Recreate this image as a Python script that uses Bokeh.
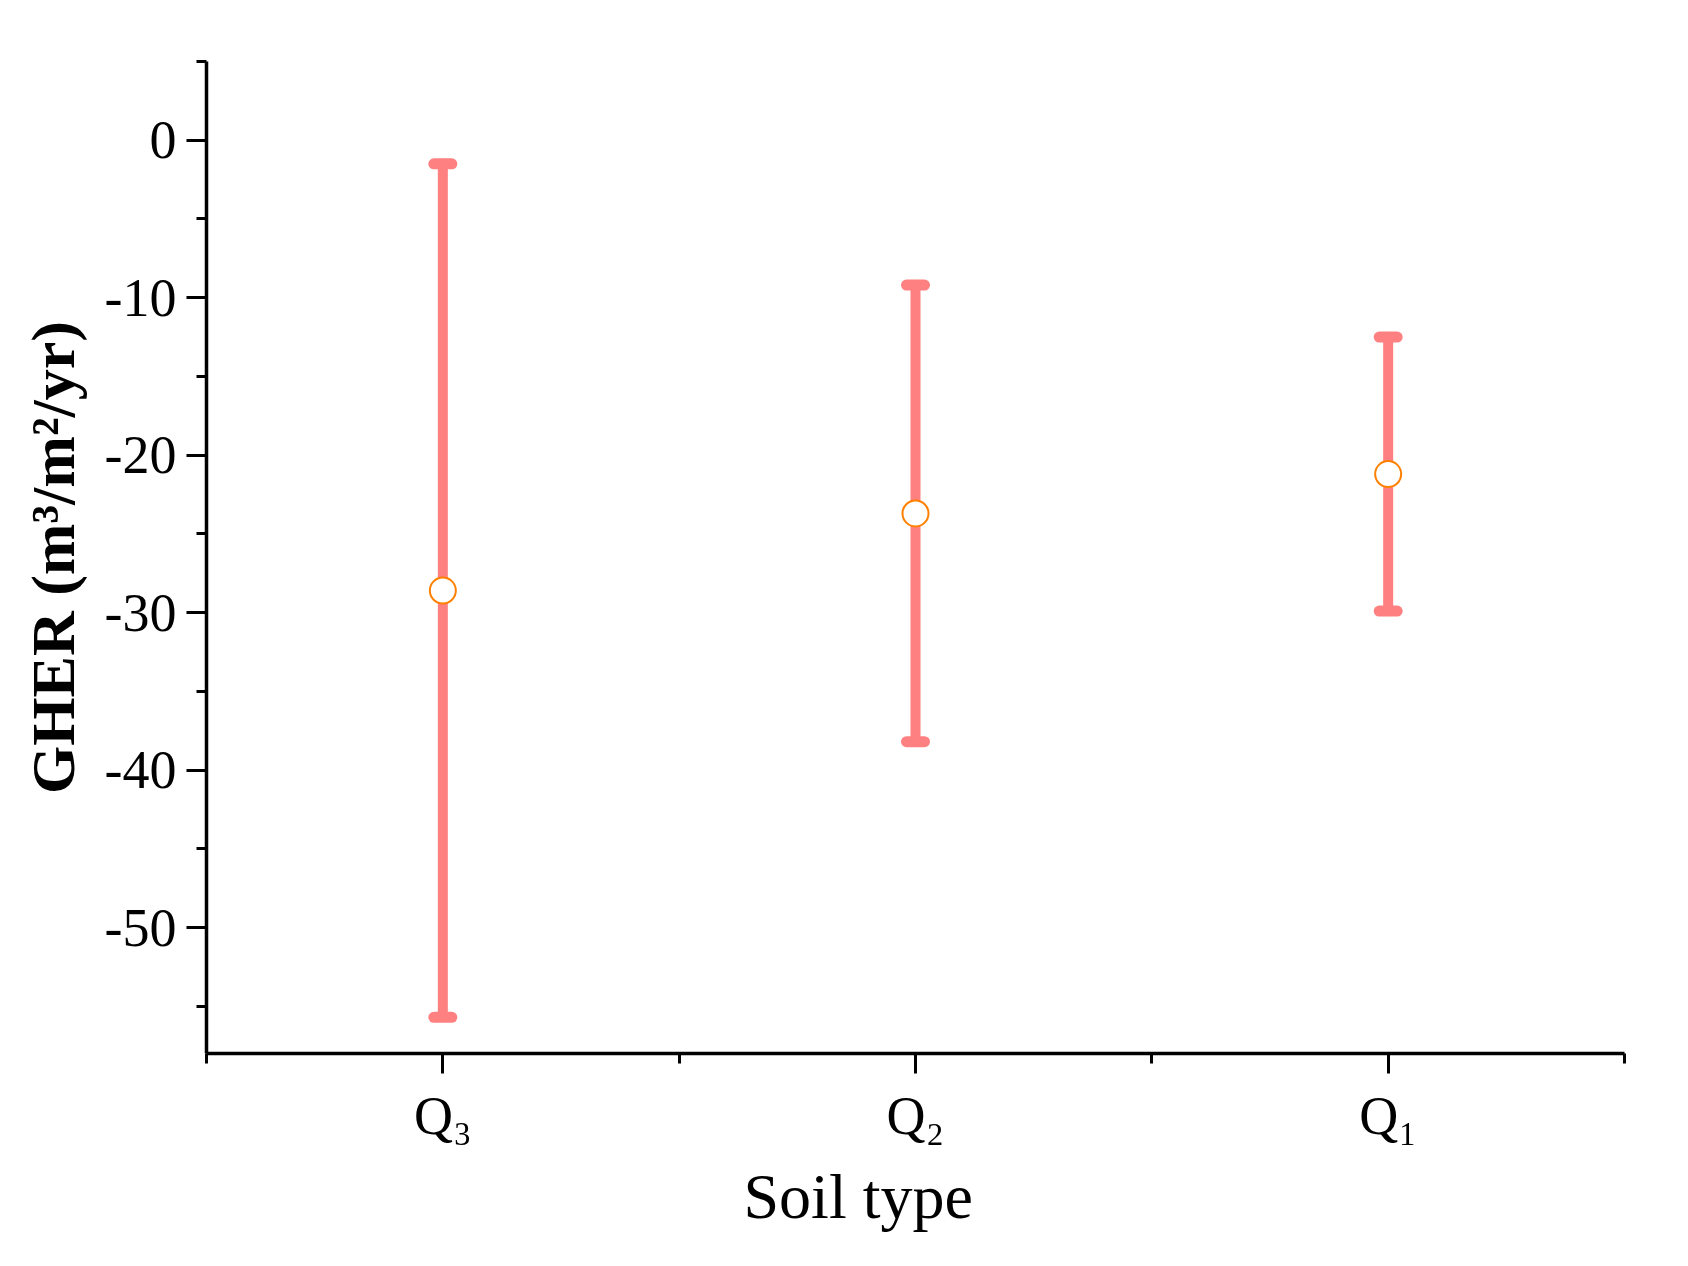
from bokeh.plotting import figure
from bokeh.models import ColumnDataSource, Whisker, TeeHead, FixedTicker, Range1d, Title
from bokeh.embed import file_html
from bokeh.resources import INLINE

# ---- data ----
categories = ["Q₃", "Q₂", "Q₁"]
means = [-28.6, -23.7, -21.2]
errors = [27.1, 14.5, 8.7]
y_major_ticks = [-50, -40, -30, -20, -10, 0]
y_minor_ticks = [-55, -45, -35, -25, -15, -5, 5]
x_title = "Soil type"
y_title = "GHER (m³/m²/yr)"

xs = [i + 1 for i in range(len(categories))]
upper = [m + e for m, e in zip(means, errors)]
lower = [m - e for m, e in zip(means, errors)]
src = ColumnDataSource(dict(x=xs, mean=means, upper=upper, lower=lower))

FONT = "Liberation Serif"
BAR = "#FF8080"
MARK = "#FF8000"

W, H = 1672, 1250
p = figure(width=W, height=H, output_backend="svg", toolbar_location=None,
           x_range=Range1d(0.5, 3.5), y_range=Range1d(-58, 5),
           min_border_left=206, min_border_right=48, min_border_top=61, min_border_bottom=197,
           background_fill_color="white", border_fill_color="white")
p.outline_line_color = None
p.xgrid.visible = False
p.ygrid.visible = False

head = dict(size=18, line_color=BAR, line_width=11, line_cap="round")
wh = Whisker(base="x", upper="upper", lower="lower", source=src, dimension="height",
             line_color=BAR, line_width=10, line_cap="round",
             upper_head=TeeHead(**head), lower_head=TeeHead(**head))
p.add_layout(wh)

p.scatter("x", "mean", source=src, size=26, marker="circle", fill_color="white",
          line_color=MARK, line_width=2)

# axes
for ax in (p.xaxis[0], p.yaxis[0]):
    ax.axis_line_width = 3.5
    ax.axis_line_color = "black"
    ax.major_tick_line_width = 3
    ax.minor_tick_line_width = 3
    ax.major_tick_line_color = "black"
    ax.minor_tick_line_color = "black"
    ax.major_tick_in = 0
    ax.minor_tick_in = 0
    ax.major_tick_out = 20
    ax.minor_tick_out = 10
    ax.major_label_text_font = FONT
    ax.major_label_text_font_size = "54px"
    ax.major_label_text_color = "black"
    ax.axis_label_text_font = FONT
    ax.axis_label_text_color = "black"

p.xaxis.ticker = FixedTicker(ticks=xs, minor_ticks=[0.5, 1.5, 2.5, 3.5])
p.xaxis.major_label_overrides = {x: c for x, c in zip(xs, categories)}
p.xaxis.major_label_standoff = 12

p.yaxis.ticker = FixedTicker(ticks=y_major_ticks, minor_ticks=y_minor_ticks)
p.yaxis.major_label_overrides = {t: str(t) for t in y_major_ticks}
p.yaxis.axis_label = y_title
p.yaxis.axis_label_text_font_size = "62px"
p.yaxis.axis_label_text_font_style = "bold"
p.yaxis.major_label_standoff = 10
p.yaxis.axis_label_standoff = 15

# x-axis title, placed slightly left of centre as in the reference
p.add_layout(Title(text=x_title, align="left", offset=537, standoff=21,
                   text_font=FONT, text_font_size="64px", text_font_style="normal",
                   text_color="black"), "below")

open("out.html", "w").write(file_html(p, INLINE))
